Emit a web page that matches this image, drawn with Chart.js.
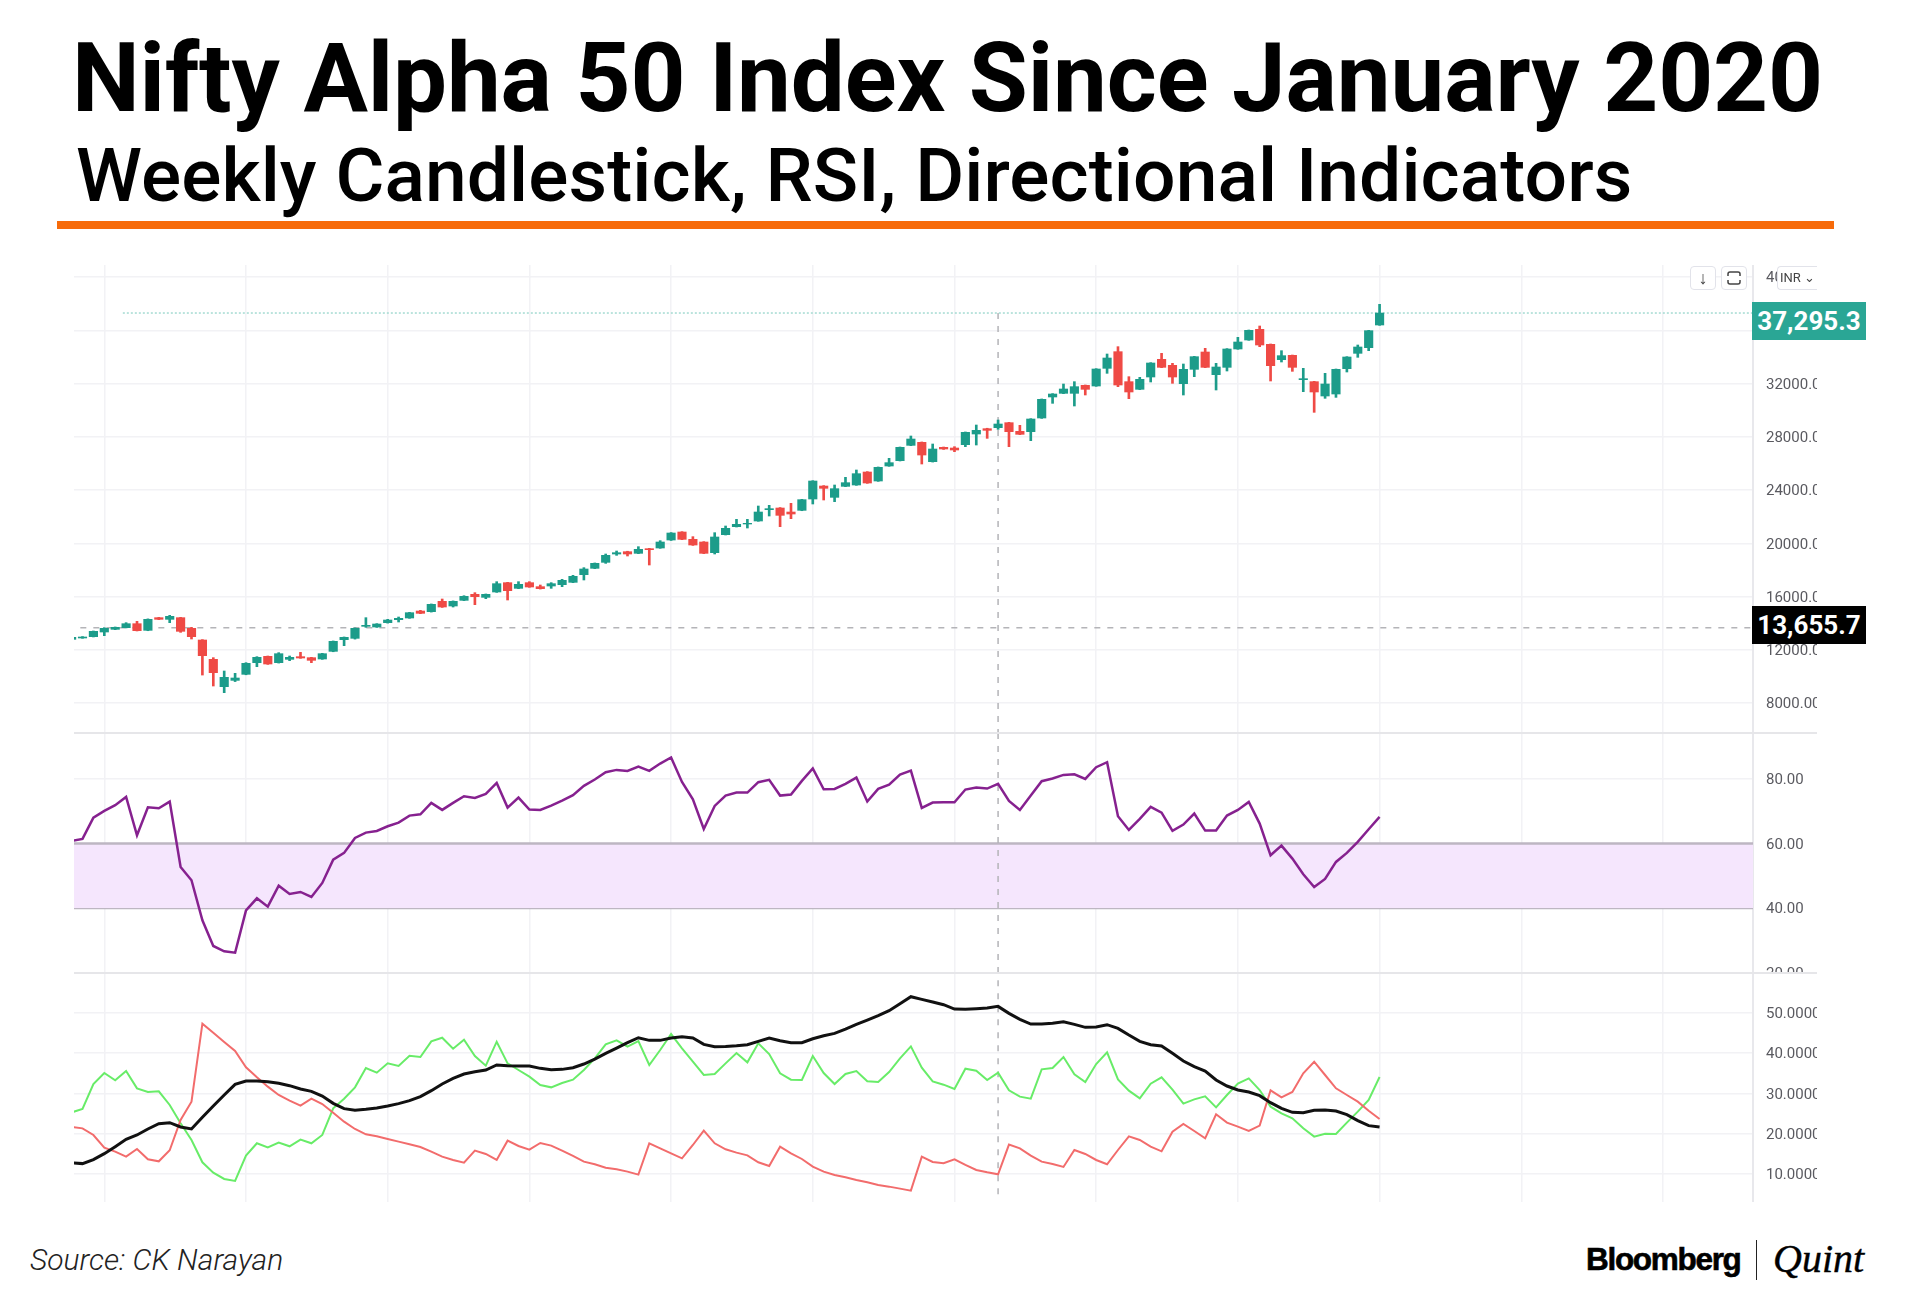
<!DOCTYPE html>
<html>
<head>
<meta charset="utf-8">
<title>Nifty Alpha 50 Index Since January 2020</title>
<script src="https://cdn.jsdelivr.net/npm/chart.js@4/dist/chart.umd.min.js"></script>
<style>
html, body { margin: 0; padding: 0; background: #fff; }
#page { position: relative; width: 1920px; height: 1300px; overflow: hidden; background: #fff; font-family: Roboto, sans-serif; }
#page > * { position: absolute; }
canvas { display: block; }
.title { left: 72px; top: 22px; font-size: 96px; line-height: 112px; font-weight: 700; letter-spacing: -0.13px; color: #000; white-space: nowrap; }
.subtitle { left: 76px; top: 132px; font-size: 75px; line-height: 86px; font-weight: 500; letter-spacing: 0.08px; color: #000; white-space: nowrap; }
.rule { left: 57px; top: 221px; width: 1777px; height: 8px; background: #f76b0a; }
.sep { left: 74px; width: 1743px; height: 2px; background: #e6e6e9; }
.tag { left: 1752px; width: 114px; height: 38px; line-height: 38px; text-align: center; color: #fff; font-size: 26px; font-weight: 700; }
.btn { top: 266px; height: 22px; width: 24px; border: 1px solid #e2e3ea; border-radius: 4px; background: #fff; text-align: center; color: #444; font-size: 18px; line-height: 22px; }
.source { left: 30px; top: 1243px; font-size: 30px; line-height: 34px; font-style: italic; font-weight: 300; color: #222; }
.bloomberg { left: 1586px; top: 1238px; font-family: "Liberation Sans", sans-serif; font-weight: 700; font-size: 31.5px; line-height: 42px; letter-spacing: -1.3px; color: #000; -webkit-text-stroke: 0.6px #000; }
.divider { left: 1756px; top: 1240px; width: 1px; height: 40px; background: #222; }
.quint { left: 1773px; top: 1235px; font-family: "Liberation Serif", serif; font-style: italic; font-size: 40px; line-height: 48px; color: #000; -webkit-text-stroke: 0.4px #000; }
</style>
</head>
<body>
<div id="page">
  <canvas id="priceChart" width="1743" height="468" style="left:74px;top:265px"></canvas>
  <canvas id="rsiChart" width="1743" height="240" style="left:74px;top:733px"></canvas>
  <canvas id="diChart" width="1743" height="229" style="left:74px;top:973px"></canvas>

  <div class="title">Nifty Alpha 50 Index Since January 2020</div>
  <div class="subtitle">Weekly Candlestick, RSI, Directional Indicators</div>
  <div class="rule"></div>

  <div class="sep" style="top:732px"></div>
  <div class="sep" style="top:972px"></div>

  <div class="btn" style="left:1690px">↓</div>
  <div class="btn" style="left:1721px"><svg width="16" height="16" viewBox="0 0 16 16" style="margin-top:3px"><path d="M2 6V4a2 2 0 0 1 2-2h8a2 2 0 0 1 2 2v2M2 10v2a2 2 0 0 0 2 2h8a2 2 0 0 0 2-2v-2" fill="none" stroke="#444" stroke-width="1.5"/></svg></div>
  <div class="btn" style="left:1777px;width:39px;border-right:none;border-radius:4px 0 0 4px;font-size:13px;white-space:nowrap;overflow:hidden">INR ⌄</div>

  <div class="tag" style="top:302px;background:#2aa695">37,295.3</div>
  <div class="tag" style="top:606px;background:#000">13,655.7</div>

  <div class="source">Source: CK Narayan</div>
  <div class="bloomberg">Bloomberg</div>
  <div class="divider"></div>
  <div class="quint">Quint</div>
</div>

<script>
// weekly candles
const opens = [
  12782, 12883, 12983, 13333, 13533, 13658, 13958, 13458, 14410, 14285,
  14410, 13608, 12732, 11280, 9227, 9700, 10153, 11030, 11505, 11030,
  11280, 11480, 11405, 11305, 11880, 12757, 12857, 13759, 13709, 14034,
  14260, 14385, 14910, 14860, 15637, 15286, 15712, 16162, 15937, 16338,
  17039, 16613, 17039, 16739, 16788, 16889, 17064, 17640, 18116, 18566,
  19192, 19367, 19243, 19593, 19643, 20244, 20845, 20294, 20094, 19293,
  20645, 21246, 21446, 21671, 22523, 22648, 22347, 22473, 23324, 24300,
  23449, 24275, 24376, 25352, 24676, 25803, 26204, 27355, 27581, 26129,
  27205, 27155, 27406, 28207, 28607, 28682, 29058, 28408, 28383, 29409,
  30987, 31262, 31262, 31863, 31813, 33140, 34392, 32139, 31563, 32489,
  33816, 33366, 31988, 33065, 34367, 32665, 33215, 34593, 35269, 36070,
  34943, 33792, 34117, 32289, 32139, 31062, 31212, 33115, 34267, 34693,
  36396
];
const closes = [
  12932, 12958, 13383, 13608, 13683, 13958, 13433, 14285, 14285, 14510,
  13383, 12983, 11555, 10278, 9928, 9878, 10979, 11430, 10929, 11705,
  11430, 11380, 11205, 11705, 12632, 12932, 13608, 13834, 13934, 14234,
  14360, 14785, 14735, 15411, 15211, 15637, 16012, 15987, 16162, 16964,
  16438, 16914, 16714, 16588, 16964, 17214, 17515, 18066, 18491, 19092,
  19292, 19192, 19543, 19518, 20094, 20770, 20294, 19868, 19243, 20470,
  21120, 21421, 21496, 22347, 22598, 22097, 22197, 23274, 24676, 24125,
  24100, 24551, 25227, 24526, 25703, 26054, 27205, 27831, 26629, 27080,
  27080, 27005, 28332, 28482, 28482, 28958, 28383, 28183, 29334, 30812,
  31212, 31588, 31763, 31563, 33090, 33916, 31888, 31363, 32314, 33541,
  33215, 32489, 33065, 34016, 33215, 33240, 34593, 35118, 35995, 34893,
  33341, 34092, 33215, 32364, 31363, 31963, 33065, 33992, 34743, 35970,
  37295.3
];
const highs = [
  12960, 12990, 13410, 13658, 13710, 14034, 14135, 14320, 14430, 14585,
  14430, 13683, 12760, 11405, 10403, 10228, 11030, 11480, 11530, 11780,
  11530, 11805, 11430, 11730, 12660, 12960, 13640, 14410, 13960, 14285,
  14460, 14810, 14960, 15440, 15812, 15670, 16060, 16288, 16190, 17114,
  17065, 17114, 17114, 16864, 17040, 17290, 17590, 18166, 18520, 19192,
  19418, 19400, 19743, 19620, 20194, 20800, 20870, 20495, 20120, 20795,
  21296, 21796, 21796, 22798, 22848, 22680, 22998, 23300, 24700, 24330,
  24376, 24952, 25503, 25380, 25730, 26379, 27230, 28057, 27610, 27456,
  27230, 27255, 28360, 28883, 28640, 29259, 29085, 28858, 29360, 30840,
  31240, 31963, 32139, 31890, 33115, 34217, 34768, 32514, 32464, 33566,
  34267, 33516, 33466, 34040, 34643, 33516, 34620, 35469, 36020, 36320,
  34970, 34467, 34140, 33140, 32165, 32765, 33090, 34017, 34893, 35995,
  37948
];
const lows = [
  12760, 12860, 12960, 13057, 13510, 13640, 13410, 13430, 14265, 14034,
  13308, 12807, 10100, 9276, 8776, 9610, 10120, 10729, 10900, 11000,
  11180, 11355, 11030, 11280, 11850, 12307, 12800, 13683, 13680, 14000,
  14084, 14360, 14710, 14830, 15180, 15210, 15690, 15386, 15837, 16310,
  15737, 16590, 16690, 16560, 16613, 16739, 17040, 17240, 18090, 18490,
  19092, 19042, 19218, 18366, 19620, 20210, 20270, 19840, 19220, 19193,
  20620, 21220, 21145, 21650, 22047, 21246, 21847, 22445, 22949, 23249,
  23124, 24250, 24350, 24500, 24650, 25780, 26180, 27330, 25953, 26100,
  27050, 26880, 27256, 27380, 27881, 28557, 27256, 28160, 27707, 29380,
  30511, 31235, 30311, 31137, 31790, 32765, 31763, 30862, 31540, 32114,
  33190, 32014, 31137, 32515, 33190, 31513, 32940, 34570, 35245, 34768,
  32189, 33616, 32915, 31388, 29835, 30887, 30960, 32865, 33967, 34467,
  36370
];

const rsiValues = [
  60.83, 61.45, 68.08, 70.16, 71.92, 74.51, 62.59, 71.30, 70.98, 73.06,
  52.75, 48.60, 36.17, 28.19, 26.53, 26.11, 39.27, 43.01, 40.41, 46.94,
  44.35, 44.97, 43.42, 47.77, 55.03, 57.10, 61.76, 63.42, 63.94, 65.39,
  66.53, 68.70, 69.12, 72.64, 70.47, 72.64, 74.72, 74.20, 75.44, 78.86,
  71.19, 74.30, 70.57, 70.47, 71.81, 73.37, 75.03, 77.93, 79.90, 82.18,
  82.90, 82.59, 83.94, 82.59, 84.87, 86.74, 79.17, 73.78, 64.56, 71.71,
  74.92, 75.85, 75.85, 79.07, 79.79, 74.92, 75.23, 79.48, 83.32, 76.89,
  76.99, 78.55, 80.52, 73.06, 76.99, 78.34, 81.45, 82.69, 71.09, 72.75,
  72.85, 72.85, 76.79, 77.41, 77.10, 78.55, 73.26, 70.47, 74.92, 79.38,
  80.21, 81.35, 81.55, 80.10, 83.73, 85.28, 68.50, 64.25, 67.67, 71.40,
  69.64, 63.94, 65.91, 69.33, 64.04, 64.04, 68.70, 70.47, 72.95, 66.22,
  56.37, 59.38, 55.34, 50.47, 46.53, 49.02, 54.30, 57.10, 60.52, 64.46,
  68.29
];

const plusDI = [
  25.29, 26.12, 32.32, 35.04, 33.22, 35.54, 31.24, 30.33, 30.50, 27.11,
  22.56, 18.43, 12.90, 10.33, 8.76, 8.27, 14.55, 17.61, 16.61, 17.77,
  16.86, 18.51, 17.61, 19.67, 26.28, 28.68, 31.49, 36.28, 35.13, 37.44,
  36.78, 39.34, 39.01, 42.89, 43.80, 41.08, 43.31, 39.26, 36.86, 42.81,
  37.44, 35.79, 34.13, 32.07, 31.49, 32.56, 33.39, 35.79, 38.68, 42.15,
  43.14, 41.57, 42.98, 37.03, 40.75, 44.71, 41.16, 37.85, 34.55, 34.80,
  37.44, 40.00, 37.69, 42.40, 39.75, 34.96, 33.39, 33.31, 39.26, 35.04,
  32.32, 34.80, 35.54, 32.98, 32.81, 35.29, 38.68, 41.65, 36.37, 32.98,
  32.15, 31.08, 36.12, 35.62, 33.31, 35.13, 30.75, 29.18, 28.68, 35.95,
  36.28, 39.01, 34.71, 32.81, 37.27, 40.17, 33.47, 30.66, 28.76, 32.40,
  33.97, 30.91, 27.44, 28.51, 29.26, 26.53, 29.59, 32.40, 33.72, 30.83,
  26.70, 25.04, 23.80, 21.32, 19.26, 20.00, 19.92, 22.73, 25.46, 28.35,
  34.05
];
const minusDI = [
  21.66, 21.32, 19.67, 16.53, 15.54, 14.30, 16.20, 13.64, 13.14, 15.87,
  23.39, 27.94, 47.27, 45.04, 42.73, 40.50, 36.45, 33.97, 31.66, 29.59,
  28.18, 26.94, 28.68, 27.36, 25.21, 22.98, 21.16, 19.84, 19.34, 18.68,
  18.02, 17.36, 16.70, 15.54, 14.30, 13.47, 12.81, 15.79, 14.96, 13.47,
  18.27, 16.95, 16.04, 17.69, 17.03, 15.79, 14.47, 13.06, 12.40, 11.57,
  11.16, 10.58, 9.84, 17.61, 16.37, 15.13, 13.89, 17.19, 20.75, 17.61,
  16.12, 15.29, 14.63, 12.90, 11.99, 16.78, 15.13, 13.72, 11.82, 10.58,
  9.76, 9.18, 8.52, 7.94, 7.28, 6.86, 6.37, 5.87, 14.30, 12.98,
  12.65, 13.64, 12.24, 10.99, 10.42, 9.92, 17.28, 16.37, 14.55, 13.06,
  12.48, 11.74, 15.95, 14.96, 13.47, 12.40, 15.95, 19.34, 18.43, 16.78,
  15.62, 20.50, 22.40, 20.66, 18.84, 24.80, 22.73, 21.74, 20.66, 21.99,
  30.75, 29.01, 30.33, 34.96, 37.85, 34.55, 31.24, 29.59, 27.94, 25.70,
  23.64
];
const adx = [
  12.73, 12.57, 13.56, 15.04, 16.78, 18.60, 19.67, 21.16, 22.48, 22.73,
  21.66, 21.16, 24.05, 26.86, 29.59, 32.23, 33.06, 33.06, 32.89, 32.48,
  31.90, 31.08, 30.50, 29.34, 27.52, 26.20, 25.79, 26.04, 26.37, 26.86,
  27.44, 28.18, 29.18, 30.66, 32.32, 33.72, 34.80, 35.37, 35.79, 37.03,
  36.86, 36.78, 36.78, 36.20, 35.87, 35.95, 36.37, 37.27, 38.51, 39.92,
  41.24, 42.56, 43.80, 43.14, 43.14, 43.72, 44.05, 43.72, 42.15, 41.57,
  41.65, 41.82, 42.07, 42.89, 43.72, 43.06, 42.56, 42.56, 43.55, 44.30,
  44.88, 45.95, 47.11, 48.18, 49.26, 50.50, 52.23, 53.97, 53.31, 52.65,
  51.98, 50.91, 50.83, 50.99, 51.16, 51.57, 49.84, 48.35, 47.19, 47.19,
  47.36, 47.77, 47.11, 46.37, 46.45, 47.03, 46.12, 44.46, 42.89, 42.07,
  41.74, 39.92, 38.02, 36.61, 35.54, 33.31, 31.82, 30.83, 30.33, 29.42,
  27.69, 26.28, 25.29, 25.21, 25.79, 25.87, 25.62, 24.71, 23.23, 21.99,
  21.66
];

// tick labels of the three panels
const priceTicks = [8000, 12000, 16000, 20000, 24000, 28000, 32000, 36000, 40000];
const rsiTicks = [20, 40, 60, 80];
const diTicks = [10, 20, 30, 40, 50];

// week index of the vertical grid lines and the crosshair
const gridWeeks = [3, 16, 29, 42, 55, 68, 81, 94, 107, 120, 133, 146];
const crossWeek = 85;
const lastPrice = 37295.3;
const crossPrice = 13655.7;

const xMin = 0.22;
const xMax = 154.26;
const green = '#1c9c8a';
const red = '#ef4a45';
const gridColor = '#f2f2f5';
const crossColor = '#b4b4b8';

function series(values) {
    return values.map((v, i) => ({ x: i, y: v }));
}

function flatLine(y, from, to, style) {
    return Object.assign({
        type: 'line',
        data: [{ x: from, y: y }, { x: to, y: y }],
        borderWidth: 1.5,
        pointRadius: 0
    }, style);
}

function crossLine(y1, y2, order) {
    return {
        type: 'line',
        data: [{ x: crossWeek, y: y1 }, { x: crossWeek, y: y2 }],
        borderColor: crossColor,
        borderWidth: 1.5,
        borderDash: [6, 7],
        pointRadius: 0,
        order: order
    };
}

function panelOptions(yMin, yMax, yTicks, decimals) {
    return {
        responsive: false,
        animation: false,
        devicePixelRatio: 1,
        layout: { padding: 0 },
        plugins: { legend: { display: false }, tooltip: { enabled: false } },
        elements: { point: { radius: 0 }, line: { tension: 0 } },
        scales: {
            x: {
                type: 'linear',
                offset: false,
                min: xMin,
                max: xMax,
                afterBuildTicks: axis => { axis.ticks = gridWeeks.map(v => ({ value: v })); },
                ticks: { display: false },
                border: { display: false },
                grid: { offset: false, color: gridColor, lineWidth: 1.5, drawTicks: false }
            },
            y: {
                position: 'right',
                min: yMin,
                max: yMax,
                afterBuildTicks: axis => { axis.ticks = yTicks.map(v => ({ value: v })); },
                afterFit: axis => {
                    axis.width = 64;
                    axis.paddingTop = 0;
                    axis.paddingBottom = 0;
                },
                ticks: {
                    padding: 13,
                    labelOffset: 1.5,
                    color: '#5a5a60',
                    font: { family: 'Roboto', size: 15 },
                    callback: v => v.toFixed(decimals)
                },
                border: { display: true, color: '#e8e8ec', width: 2 },
                grid: { color: gridColor, lineWidth: 1.5, drawTicks: false }
            }
        }
    };
}

const candleColors = closes.map((c, i) => (c >= opens[i] ? green : red));

new Chart(document.getElementById('priceChart'), {
    type: 'bar',
    data: {
        datasets: [
            {
                data: lows.map((l, i) => ({ x: i, y: [l, highs[i]] })),
                backgroundColor: candleColors,
                barThickness: 2,
                grouped: false,
                order: 2
            },
            {
                data: opens.map((o, i) => ({ x: i, y: [o, closes[i]] })),
                backgroundColor: candleColors,
                barThickness: 8.5,
                grouped: false,
                order: 1
            },
            flatLine(lastPrice, 4.7, xMax, { borderColor: '#a5dbd2', borderDash: [2, 2], order: 4 }),
            flatLine(crossPrice, 0.8, xMax, { borderColor: crossColor, borderDash: [6, 7], order: 4 }),
            crossLine(lastPrice, 5746, 5)
        ]
    },
    options: panelOptions(5746, 40903, priceTicks, 2)
});

new Chart(document.getElementById('rsiChart'), {
    type: 'line',
    data: {
        datasets: [
            {
                data: series(rsiValues),
                borderColor: '#86218f',
                borderWidth: 2.5,
                order: 1
            },
            flatLine(60, xMin, xMax, { borderColor: '#bdb6c2', borderWidth: 2.5, order: 3, fill: { target: { value: 40 } }, backgroundColor: '#f5e6fd' }),
            flatLine(40, xMin, xMax, { borderColor: '#bdb6c2', borderWidth: 2.5, order: 3 }),
            crossLine(19.8, 94.36, 2)
        ]
    },
    options: panelOptions(19.8, 94.36, rsiTicks, 2)
});

new Chart(document.getElementById('diChart'), {
    type: 'line',
    data: {
        datasets: [
            { data: series(plusDI), borderColor: '#68ec68', borderWidth: 2, order: 3 },
            { data: series(minusDI), borderColor: '#f26c6c', borderWidth: 2, order: 2 },
            { data: series(adx), borderColor: '#111111', borderWidth: 3, order: 1 },
            crossLine(5, 59.85, 5)
        ]
    },
    options: panelOptions(3.05, 59.85, diTicks, 4)
});
</script>
</body>
</html>
